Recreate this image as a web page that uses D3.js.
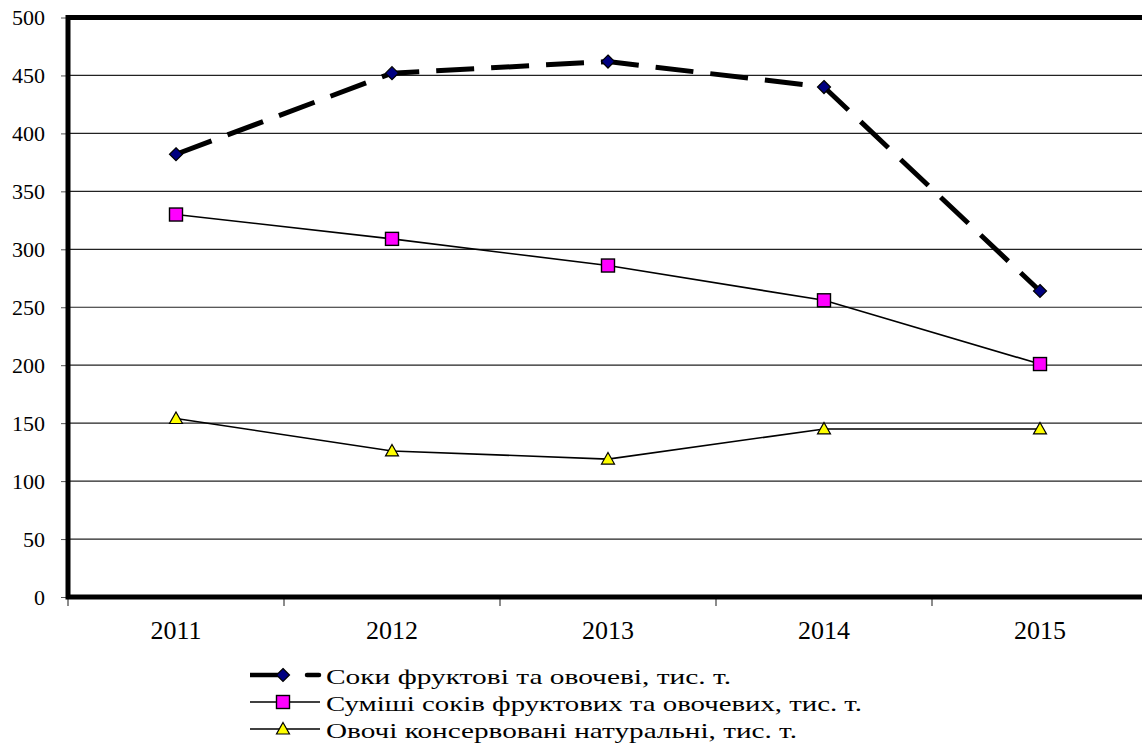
<!DOCTYPE html>
<html>
<head>
<meta charset="utf-8">
<script src="https://cdn.jsdelivr.net/npm/d3@7"></script>
<style>
  body { margin: 0; background: #fff; }
  svg { display: block; }
</style>
</head>
<body>
<svg id="chart" width="1142" height="751"></svg>
<script>
  const years = ["2011", "2012", "2013", "2014", "2015"];
  const soky = [382, 452, 462, 440, 264];
  const sumishi = [330, 309, 286, 256, 201];
  const ovochi = [154, 126, 119, 145, 145];
  const yTicks = [0, 50, 100, 150, 200, 250, 300, 350, 400, 450, 500];
  const seriesNames = [
    "Соки фруктові та овочеві, тис. т.",
    "Суміші соків фруктових та овочевих, тис. т.",
    "Овочі консервовані натуральні, тис. т."
  ];

  const FONT = "Liberation Serif";
  const svg = d3.select("#chart");
  const plotL = 68, plotR = 1148, plotT = 17.5, plotB = 597;

  const x = d3.scaleBand().domain(years).range([plotL, plotR]);
  const y = d3.scaleLinear().domain([0, 500]).range([plotB, plotT]);

  // сітка
  svg.append("g")
    .selectAll("line")
    .data(yTicks.filter((t) => t > 0 && t < 500))
    .join("line")
    .attr("x1", plotL).attr("x2", plotR)
    .attr("y1", (d) => y(d)).attr("y2", (d) => y(d))
    .attr("stroke", "#222").attr("stroke-width", 1.2);

  // вісь Y
  const yAxis = svg.append("g")
    .attr("transform", `translate(${plotL},0)`)
    .call(d3.axisLeft(y).tickValues(yTicks).tickSize(7).tickPadding(16));
  yAxis.select(".domain").remove();
  yAxis.selectAll("line").attr("stroke", "#555");
  yAxis.selectAll("text")
    .attr("fill", "#000")
    .style("font-family", FONT).style("font-size", "22px");

  // вісь X (мітки між категоріями)
  const xAxis = svg.append("g")
    .attr("transform", `translate(0,${plotB})`)
    .call(d3.axisBottom(x).tickSize(0).tickPadding(24));
  xAxis.select(".domain").remove();
  xAxis.selectAll("text")
    .attr("fill", "#000")
    .style("font-family", FONT).style("font-size", "26px");
  svg.append("g")
    .selectAll("line")
    .data(years.concat(["end"]))
    .join("line")
    .attr("x1", (d, i) => plotL + i * x.bandwidth())
    .attr("x2", (d, i) => plotL + i * x.bandwidth())
    .attr("y1", plotB).attr("y2", plotB + 9)
    .attr("stroke", "#666").attr("stroke-width", 1.5);

  // рамка
  svg.append("rect")
    .attr("x", plotL).attr("y", plotT)
    .attr("width", plotR - plotL).attr("height", plotB - plotT)
    .attr("fill", "none").attr("stroke", "#000").attr("stroke-width", 5);

  const cx = (i) => x(years[i]) + x.bandwidth() / 2;
  const line = d3.line().x((d, i) => cx(i)).y((d) => y(d));

  svg.append("path").datum(sumishi).attr("d", line)
    .attr("fill", "none").attr("stroke", "#000").attr("stroke-width", 1.6);
  svg.append("path").datum(ovochi).attr("d", line)
    .attr("fill", "none").attr("stroke", "#000").attr("stroke-width", 1.6);
  svg.append("path").datum(soky).attr("d", line)
    .attr("fill", "none").attr("stroke", "#000").attr("stroke-width", 5)
    .attr("stroke-dasharray", "38,17");

  function diamond(g, px, py) {
    g.append("path")
      .attr("d", `M${px},${py - 6.5}L${px + 6.5},${py}L${px},${py + 6.5}L${px - 6.5},${py}Z`)
      .attr("fill", "#000080").attr("stroke", "#000").attr("stroke-width", 1.2);
  }
  function square(g, px, py) {
    g.append("rect").attr("x", px - 6.5).attr("y", py - 6.5).attr("width", 13).attr("height", 13)
      .attr("fill", "#ff00ff").attr("stroke", "#000").attr("stroke-width", 1.4);
  }
  function triangle(g, px, py) {
    g.append("path")
      .attr("d", `M${px},${py - 6.5}L${px + 6.5},${py + 5}L${px - 6.5},${py + 5}Z`)
      .attr("fill", "#ffff00").attr("stroke", "#000").attr("stroke-width", 1.2);
  }

  const marks = svg.append("g");
  soky.forEach((v, i) => diamond(marks, cx(i), y(v)));
  sumishi.forEach((v, i) => square(marks, cx(i), y(v)));
  ovochi.forEach((v, i) => triangle(marks, cx(i), y(v)));

  // легенда (текст у оригіналі трохи розтягнутий по горизонталі)
  const lg = svg.append("g");
  const baselines = [684, 711, 738];
  const textWidths = [405, 536, 471];
  const ly = baselines.map((b) => b - 9);
  lg.append("line").attr("x1", 250).attr("x2", 278).attr("y1", ly[0]).attr("y2", ly[0])
    .attr("stroke", "#000").attr("stroke-width", 4.5);
  lg.append("line").attr("x1", 307).attr("x2", 319).attr("y1", ly[0]).attr("y2", ly[0])
    .attr("stroke", "#000").attr("stroke-width", 4.5).attr("stroke-linecap", "round");
  diamond(lg, 283, ly[0]);
  [1, 2].forEach((r) => {
    lg.append("line").attr("x1", 250).attr("x2", 320).attr("y1", ly[r]).attr("y2", ly[r])
      .attr("stroke", "#000").attr("stroke-width", 1.6);
  });
  square(lg, 283, ly[1]);
  triangle(lg, 283, ly[2]);
  lg.selectAll("text.lbl")
    .data(seriesNames)
    .join("text")
    .attr("class", "lbl")
    .attr("x", 326)
    .attr("y", (d, i) => baselines[i])
    .attr("fill", "#000")
    .attr("textLength", (d, i) => textWidths[i])
    .attr("lengthAdjust", "spacingAndGlyphs")
    .style("font-family", FONT)
    .style("font-size", "22px")
    .text((d) => d);
</script>
</body>
</html>
